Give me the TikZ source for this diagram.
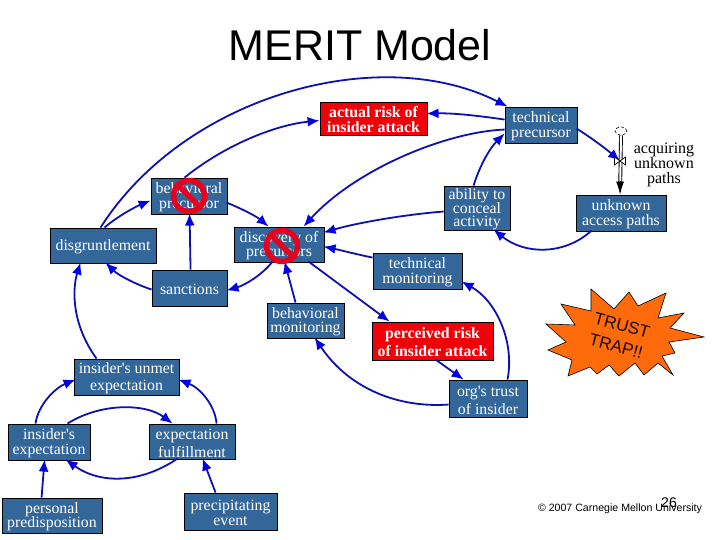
\documentclass[tikz,border=0pt]{standalone}
\usepackage{fontspec}
\setmainfont{Liberation Serif}
\newfontfamily\arialf{Liberation Sans}
\usetikzlibrary{arrows.meta,calc,shapes.geometric}
\definecolor{boxblue}{HTML}{336699}
\definecolor{boxred}{HTML}{F00008}
\definecolor{linkblue}{HTML}{1010B0}
\definecolor{tipblue}{HTML}{0000E0}
\definecolor{nored}{HTML}{E6001E}
\definecolor{burst}{HTML}{FF6A0A}
\newcommand{\lowertext}{\rule{0pt}{13.5pt}}
\tikzset{
  vbox/.style={rectangle,draw=black,line width=0.9pt,fill=boxblue,text=white,align=center,inner sep=0pt,
    font=\fontsize{15.8}{14.8}\selectfont},
  rbox/.style={rectangle,draw=black,line width=0.9pt,fill=boxred,text=white,align=center,inner sep=0pt,
    font=\bfseries\fontsize{15.8}{14.8}\selectfont},
  sz/.style 2 args={minimum width=#1pt,minimum height=#2pt},
  link/.style={draw=linkblue,line width=1.8pt,-{Latex[length=12pt,width=10pt,color=tipblue]}},
  plain/.style={font=\fontsize{16}{15.3}\selectfont,align=center,inner sep=0pt},
  nosign/.style={circle,draw=nored,line width=5.5pt,minimum size=31pt,inner sep=0pt},
  noslash/.style={draw=nored,line width=5.5pt},
  flow/.style={draw=black,line width=1pt},
}
\begin{document}
\begin{tikzpicture}[x=1pt,y=-1pt]
\useasboundingbox (0,0) rectangle (720,540);
\fill[white] (0,0) rectangle (720,540);

% title
\node[font=\arialf\fontsize{43}{43}\selectfont,inner sep=0pt] (title) at (360,45.5) {MERIT Model};

% nodes
\node[vbox,sz={76}{36}] (bp) at (189,196) {\lowertext behavioral\\precursor};
\node[vbox,sz={106}{35}] (dg) at (103,245.5) {\lowertext disgruntlement};
\node[vbox,sz={90}{35}] (dp) at (279,244.5) {\lowertext discovery of\\precursors};
\node[vbox,sz={75}{36}] (sa) at (189.5,288) {\lowertext sanctions};
\node[vbox,sz={77}{35}] (bm) at (305.5,320.5) {\lowertext behavioral\\monitoring};
\node[rbox,sz={107}{33}] (ar) at (373.5,118.5) {\lowertext actual risk of\\insider attack};
\node[vbox,sz={72}{36}] (tp) at (541,125) {\lowertext technical\\precursor};
\node[vbox,sz={66}{44}] (ab) at (477,208) {\lowertext ability to\\[-1.5pt]conceal\\[-1.5pt]activity};
\node[vbox,sz={90}{36}] (ua) at (621,213) {\lowertext unknown\\access paths};
\node[vbox,sz={89}{36}] (tm) at (417.5,271) {\lowertext technical\\monitoring};
\node[rbox,sz={121}{38}] (pr) at (432.5,341) {\lowertext perceived risk\\[3pt]of insider attack};
\node[vbox,sz={78}{37}] (ot) at (488,398.5) {\lowertext org\textquotesingle s trust\\[3pt]of insider};
\node[vbox,sz={105}{36}] (um) at (126.5,377) {\lowertext insider\textquotesingle s unmet\\[3pt]expectation};
\node[vbox,sz={82}{36}] (ie) at (49,442) {\lowertext insider\textquotesingle s\\expectation};
\node[vbox,sz={86}{35}] (ef) at (192,441.5) {\lowertext expectation\\[3pt]fulfillment};
\node[vbox,sz={100}{35}] (pp) at (52,515.5) {\lowertext personal\\predisposition};
\node[vbox,sz={93}{37}] (pe) at (230.5,511.5) {\lowertext precipitating\\event};

% stock-and-flow parts
\node[draw=black,densely dashed,line width=0.6pt,ellipse,fill=white,minimum width=12pt,minimum height=8pt,inner sep=0pt] (cloud) at (621,131) {};
\coordinate (valve) at (620,161);
\node[plain] (acq) at (664,165) {acquiring\\unknown\\paths};

% connectors
\draw[link] ($(dg.north west)+(51,0)$) .. controls (185,95) and (380,42) .. ($(tp.north west)+(3,0)$);
\draw[link] ($(dg.north west)+(55,0)$) .. controls (118,216) and (135,207) .. ($(bp.north west)+(0,23)$);
\draw[link] ($(bp.north west)+(34,0)$) .. controls (225,145) and (275,125) .. ($(ar.north west)+(0,19)$);
\draw[link] ($(tp.north west)+(0,13)$) .. controls (480,116) and (455,113) .. ($(ar.north west)+(107,12)$);
\draw[link] ($(tp.north west)+(0,23)$) .. controls (445,132) and (355,170) .. ($(dp.north west)+(70,0)$);
\draw[link] ($(ab.north west)+(30,0)$) .. controls (480,165) and (490,148) .. ($(tp.north west)+(0,27)$);
\draw[link] ($(ab.north west)+(0,26)$) .. controls (410,214) and (360,222) .. ($(dp.north west)+(90,6)$);
\draw[link] ($(tm.north west)+(0,5)$) .. controls (355,254) and (340,250) .. ($(dp.north west)+(90,20)$);
\draw[link] ($(bp.north west)+(76,25)$) .. controls (240,208) and (256,216) .. ($(dp.north west)+(35,0)$);
\draw[link] ($(dp.north west)+(39,35)$) .. controls (262,275) and (245,285) .. ($(sa.north west)+(75,21)$);
\draw[link] ($(sa.north west)+(39,0)$) -- ($(bp.north west)+(39,36)$);
\draw[link] ($(sa.north west)+(0,20)$) .. controls (135,284) and (118,275) .. ($(dg.north west)+(56,35)$);
\draw[link] ($(bm.north west)+(29,0)$) -- ($(dp.north west)+(51,35)$);
\draw[link] ($(dp.north west)+(75,35)$) -- ($(pr.north west)+(18,0)$);
\draw[link] ($(pr.north west)+(64,38)$) -- ($(ot.north west)+(15,0)$);
\draw[link] ($(ot.north west)+(59,0)$) .. controls (515,340) and (495,300) .. ($(tm.north west)+(89,29)$);
\draw[link] ($(ot.north west)+(0,25)$) .. controls (400,408) and (350,390) .. ($(bm.north west)+(48,35)$);
\draw[link] ($(um.north west)+(23,0)$) .. controls (72,325) and (72,290) .. ($(dg.north west)+(31,35)$);
\draw[link] ($(ie.north west)+(28,0)$) .. controls (38,405) and (55,388) .. ($(um.north west)+(2,21)$);
\draw[link] ($(ef.north west)+(68,0)$) .. controls (215,405) and (200,388) .. ($(um.north west)+(105,21)$);
\draw[link] ($(ie.north west)+(60,0)$) .. controls (100,403) and (145,403) .. ($(ef.north west)+(24,0)$);
\draw[link] ($(ef.north west)+(29,35)$) .. controls (140,484) and (100,484) .. ($(ie.north west)+(58,36)$);
\draw[link] ($(pp.north west)+(40,0)$) -- ($(ie.north west)+(37,36)$);
\draw[link] ($(pe.north west)+(32,0)$) -- ($(ef.north west)+(54,35)$);
\draw[link] ($(tp.north west)+(72,22)$) .. controls (590,137) and (605,148) .. (valve);
\draw[link] ($(ua.north west)+(16,36)$) .. controls (565,255) and (525,255) .. ($(ab.north west)+(50,44)$);

% double flow line into unknown access paths
\draw[flow,double=white,double distance=2pt,line width=0.9pt,shorten >=8pt] (cloud.south) -- ($(ua.north west)+(44.5,0)$);
\draw[draw=black,line width=0.9pt,-{Latex[length=13pt,width=8pt,color=black]}] ($(ua.north west)+(44.5,-14)$) -- ($(ua.north west)+(44.5,0)$);
\draw[draw=black,line width=0.7pt,fill=white] (614.5,157) -- (625.5,165) -- (625.5,157) -- (614.5,165) -- cycle;

% prohibition signs
\node[nosign] (nobp) at (189,196) {};
\draw[noslash] (nobp.135) -- (nobp.315);
\node[nosign] (nodp) at (282,246) {};
\draw[noslash] (nodp.135) -- (nodp.315);

% burst
\draw[fill=burst,draw=black,line width=0.6pt,line join=miter]
 (561,304) -- (591,311) -- (591,289) -- (614,309) -- (629,292) -- (638,306) -- (666,293)
 -- (658,318) -- (684,313) -- (670,328) -- (704,337) -- (669,342) -- (675,353) -- (662,356)
 -- (673,375) -- (658,363) -- (644,375) -- (635,363) -- (619,376) -- (609,365) -- (597,374)
 -- (590,367) -- (568,376) -- (572,360) -- (548,350) -- (566,342) -- (546,324) -- (575,325) -- cycle;
\node[rotate=-15,font=\arialf\fontsize{17}{17}\selectfont,text=black!90!burst,inner sep=0pt] (trust) at (622,325) {TRUST};
\node[rotate=-15,font=\arialf\fontsize{17}{17}\selectfont,text=black!90!burst,inner sep=0pt] (trap) at (616,346) {TRAP!!};

% footer
\node[font=\arialf\fontsize{14}{14}\selectfont,inner sep=0pt] (pg) at (669,503) {26};
\node[font=\arialf\fontsize{10.6}{10.6}\selectfont,inner sep=0pt] (foot) at (620,509) {© 2007 Carnegie Mellon University};
\end{tikzpicture}
\end{document}
